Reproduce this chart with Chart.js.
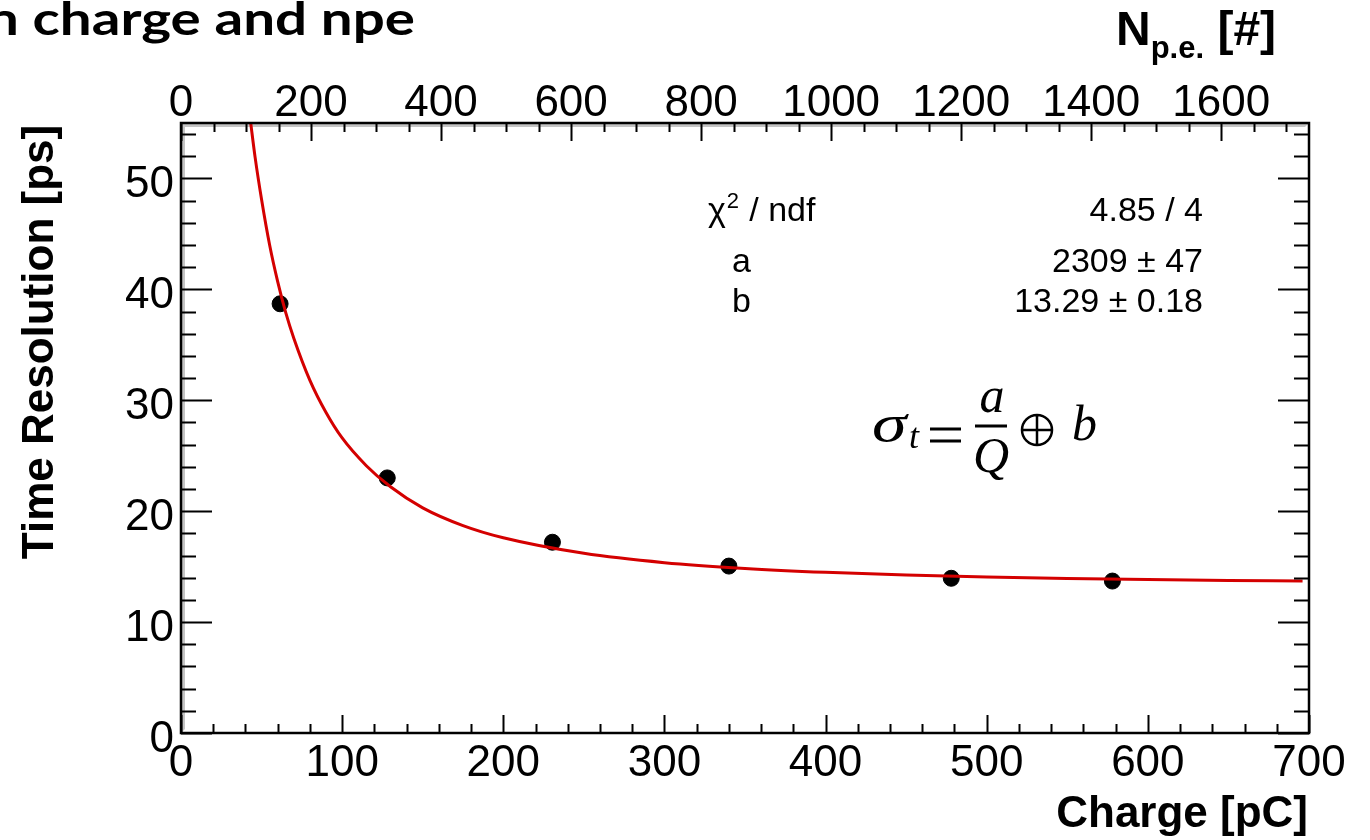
<!DOCTYPE html>
<html>
<head>
<meta charset="utf-8">
<script src="https://cdn.jsdelivr.net/npm/chart.js@4.4.0/dist/chart.umd.min.js"></script>
<style>
  html, body { margin: 0; padding: 0; background: #fff; }
  #wrap { width: 1370px; height: 840px; }
</style>
</head>
<body>
<div id="wrap"><canvas id="resChart" width="1370" height="840"></canvas></div>
<script>
// measured points: charge [pC] vs time resolution [ps]
const charge = [61.5, 128, 230.5, 340, 478, 578];
const resolution = [38.7, 23.0, 17.2, 15.05, 13.95, 13.7];

// red fit line
const fitCharge = [43, 46, 50, 55, 60, 65, 70, 80, 90, 100, 115, 130, 150, 175, 200, 250, 300, 350, 400, 450, 500, 550, 600, 650, 696];
const fitRes = [55.3, 51.9, 48.1, 44.0, 40.7, 37.9, 35.6, 31.8, 28.9, 26.6, 24.1, 22.2, 20.3, 18.7, 17.6, 16.2, 15.36, 14.84, 14.49, 14.25, 14.07, 13.94, 13.84, 13.76, 13.7];

// axis ticks
const chargeTicks = [0, 100, 200, 300, 400, 500, 600, 700];
const resTicks = [0, 10, 20, 30, 40, 50];
const npeTicks = [0, 200, 400, 600, 800, 1000, 1200, 1400, 1600];
const npeMax = 1735;

// fit box
const statNames = ['/ ndf', 'a', 'b'];
const statValues = ['4.85 / 4', '2309 \u00b1 47', '13.29 \u00b1 0.18'];

const tickFont = '44px "Liberation Sans", Arial, sans-serif';
const boldFont = (s) => 'bold ' + s + 'px "Liberation Sans", Arial, sans-serif';
const serif = '"Liberation Serif", "DejaVu Serif", serif';

const rootFrame = {
  id: 'rootFrame',
  beforeDatasetsDraw(chart) {
    const { ctx, chartArea: a } = chart;
    // grey bevel inside the frame (top and left)
    ctx.save();
    ctx.fillStyle = '#c4c4c4';
    ctx.beginPath();
    ctx.moveTo(a.left, a.top);
    ctx.lineTo(a.right, a.top);
    ctx.lineTo(a.right - 4, a.top + 4);
    ctx.lineTo(a.left + 4, a.top + 4);
    ctx.lineTo(a.left + 4, a.bottom - 4);
    ctx.lineTo(a.left, a.bottom);
    ctx.closePath();
    ctx.fill();
    ctx.restore();
  },
  afterDraw(chart) {
    const { ctx, chartArea: a } = chart;
    const x = chart.scales.x, y = chart.scales.y, x2 = chart.scales.x2;
    ctx.save();
    ctx.strokeStyle = '#000';
    ctx.fillStyle = '#000';
    ctx.lineWidth = 2;

    // ticks
    ctx.beginPath();
    for (let v = 0; v <= 700; v += 20) {
      const px = Math.round(x.getPixelForValue(v)) + 0.5;
      const len = v % 100 === 0 ? 18 : 9;
      ctx.moveTo(px, a.bottom); ctx.lineTo(px, a.bottom - len);
    }
    for (let n = 0; n <= npeMax; n += 50) {
      const px = Math.round(x2.getPixelForValue(n)) + 0.5;
      const len = n % 200 === 0 ? 18 : 9;
      ctx.moveTo(px, a.top); ctx.lineTo(px, a.top + len);
    }
    for (let v = 0; v <= 55; v += 2) {
      const py = Math.round(y.getPixelForValue(v)) + 0.5;
      const len = v % 10 === 0 ? 31 : 15;
      ctx.moveTo(a.left, py); ctx.lineTo(a.left + len, py);
      ctx.moveTo(a.right, py); ctx.lineTo(a.right - len, py);
    }
    ctx.stroke();

    // frame
    ctx.lineWidth = 2.5;
    ctx.strokeRect(a.left, a.top, a.right - a.left, a.bottom - a.top);

    // tick labels
    ctx.font = tickFont;
    ctx.textAlign = 'center';
    ctx.textBaseline = 'alphabetic';
    chargeTicks.forEach(v => ctx.fillText(String(v), x.getPixelForValue(v), 776));
    npeTicks.forEach(n => ctx.fillText(String(n), x2.getPixelForValue(n), 116));
    ctx.textAlign = 'right';
    resTicks.forEach(v => ctx.fillText(String(v), 174, y.getPixelForValue(v) + 19));

    // axis titles
    ctx.font = boldFont(44);
    ctx.textAlign = 'right';
    ctx.fillText('Charge [pC]', 1308, 827);
    ctx.save();
    ctx.translate(53, 342);
    ctx.rotate(-Math.PI / 2);
    ctx.textAlign = 'center';
    ctx.fillText('Time Resolution [ps]', 0, 0);
    ctx.restore();

    // N_p.e. [#]
    ctx.textAlign = 'left';
    let nx = 1116;
    ctx.font = boldFont(48);
    ctx.fillText('N', nx, 45);
    nx += ctx.measureText('N').width;
    ctx.font = boldFont(31);
    ctx.fillText('p.e.', nx, 58);
    nx += ctx.measureText('p.e.').width;
    ctx.font = boldFont(48);
    ctx.fillText(' [#]', nx, 45);

    // cropped title
    ctx.font = 'bold 46px Lato, "Noto Sans", sans-serif';
    const title = 'n charge and npe';
    const tw = ctx.measureText(title).width;
    ctx.save();
    ctx.translate(-13, 35);
    ctx.scale(428 / tw, 1);
    ctx.fillText(title, 0, 0);
    ctx.restore();

    // fit box
    ctx.font = '34px "Liberation Sans", Arial, sans-serif';
    const rows = [221, 272, 312];
    ctx.textAlign = 'left';
    ctx.fillText('\u03c7', 708, rows[0]);
    let cx = 708 + ctx.measureText('\u03c7').width;
    ctx.font = '22px "Liberation Sans", Arial, sans-serif';
    ctx.fillText('2', cx + 1, rows[0] - 13);
    cx += 14;
    ctx.font = '34px "Liberation Sans", Arial, sans-serif';
    ctx.fillText(' ' + statNames[0], cx, rows[0]);
    ctx.fillText(statNames[1], 732, rows[1]);
    ctx.fillText(statNames[2], 732, rows[2]);
    ctx.textAlign = 'right';
    statValues.forEach((s, i) => ctx.fillText(s, 1203, rows[i]));

    // formula  sigma_t = a/Q (+) b
    ctx.textAlign = 'left';
    ctx.save();
    ctx.translate(872, 441);
    ctx.scale(1.35, 1);
    ctx.font = 'italic 52px ' + serif;
    ctx.fillText('\u03c3', 0, 0);
    ctx.restore();
    ctx.font = 'italic 36px ' + serif;
    ctx.fillText('t', 909, 448);
    ctx.lineWidth = 3;
    ctx.beginPath();
    ctx.moveTo(930, 429); ctx.lineTo(961, 429);
    ctx.moveTo(930, 441); ctx.lineTo(961, 441);
    ctx.moveTo(975, 426); ctx.lineTo(1007, 426);
    ctx.stroke();
    ctx.font = 'italic 50px ' + serif;
    ctx.textAlign = 'center';
    ctx.fillText('a', 992, 412);
    ctx.fillText('Q', 991, 472);
    // circled plus
    ctx.lineWidth = 2.5;
    ctx.beginPath();
    ctx.arc(1037, 430, 15, 0, Math.PI * 2);
    ctx.moveTo(1022, 430); ctx.lineTo(1052, 430);
    ctx.moveTo(1037, 415); ctx.lineTo(1037, 445);
    ctx.stroke();
    ctx.textAlign = 'left';
    ctx.fillText('b', 1072, 440);

    ctx.restore();
  }
};

new Chart(document.getElementById('resChart').getContext('2d'), {
  type: 'scatter',
  data: {
    datasets: [{
      label: 'fit',
      data: fitCharge.map((q, i) => ({ x: q, y: fitRes[i] })),
      showLine: true,
      borderColor: '#d40000',
      borderWidth: 3,
      pointRadius: 0,
      cubicInterpolationMode: 'monotone',
      order: 0
    }, {
      label: 'data',
      data: charge.map((q, i) => ({ x: q, y: resolution[i] })),
      backgroundColor: '#000',
      borderColor: '#000',
      pointRadius: 8,
      borderWidth: 1,
      order: 1
    }]
  },
  options: {
    responsive: false,
    animation: false,
    devicePixelRatio: 1,
    layout: { padding: { left: 181, right: 61, top: 123, bottom: 107 } },
    scales: {
      x: { type: 'linear', min: 0, max: 700, display: false },
      x2: { type: 'linear', axis: 'x', position: 'top', min: 0, max: npeMax, display: false },
      y: { type: 'linear', min: 0, max: 55, display: false }
    },
    plugins: { legend: { display: false }, tooltip: { enabled: false } }
  },
  plugins: [rootFrame]
});
</script>
</body>
</html>
